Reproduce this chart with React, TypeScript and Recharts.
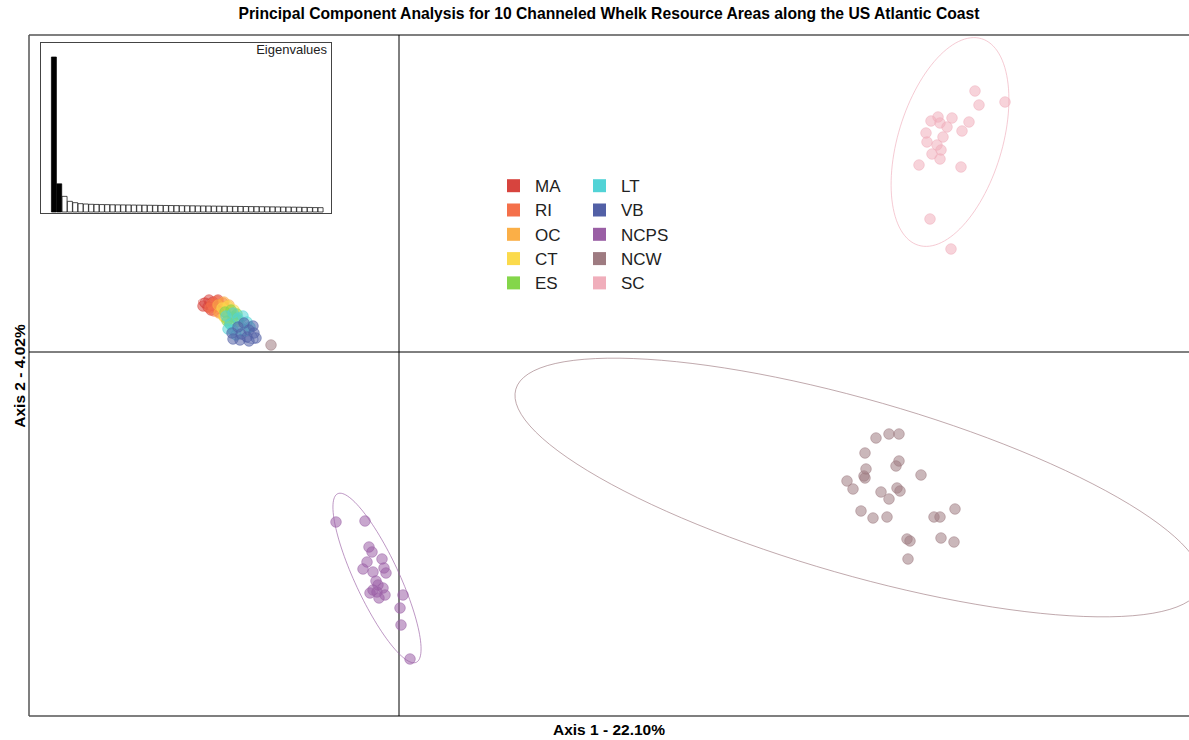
import { ScatterChart, Scatter, XAxis, YAxis, ReferenceLine, BarChart, Bar, Cell } from 'recharts';

const FONT = '"Liberation Sans", Arial, sans-serif';

const groups = ['MA', 'RI', 'OC', 'CT', 'ES', 'LT', 'VB', 'NCPS', 'NCW', 'SC'];
const groupColors = ['#D7443E', '#F4704A', '#FBAF47', '#FBDA4C', '#84D64A', '#52D3D6', '#5260A6', '#9A5FA5', '#9E7B81', '#F0AEBB'];

// PC scores (axis 1, axis 2) for each resource area
const scoresMA = [[-1.94, 0.49], [-1.9, 0.52], [-1.86, 0.5], [-1.91, 0.45], [-1.84, 0.46], [-1.88, 0.42], [-1.81, 0.52], [-1.96, 0.46]];
const scoresRI = [[-1.87, 0.48], [-1.82, 0.51], [-1.79, 0.45], [-1.85, 0.41], [-1.76, 0.49], [-1.8, 0.4], [-1.89, 0.44]];
const scoresOC = [[-1.81, 0.47], [-1.75, 0.5], [-1.73, 0.43], [-1.8, 0.39], [-1.7, 0.47], [-1.75, 0.36], [-1.68, 0.4]];
const scoresCT = [[-1.77, 0.44], [-1.71, 0.46], [-1.69, 0.39], [-1.75, 0.35], [-1.65, 0.42], [-1.71, 0.32], [-1.64, 0.36]];
const scoresES = [[-1.74, 0.4], [-1.68, 0.42], [-1.66, 0.35], [-1.72, 0.31], [-1.62, 0.38], [-1.69, 0.28], [-1.61, 0.32]];
const scoresLT = [
  [-1.73, 0.36], [-1.66, 0.39], [-1.61, 0.34], [-1.69, 0.28], [-1.56, 0.36], [-1.59, 0.26],
  [-1.66, 0.22], [-1.52, 0.3], [-1.54, 0.21], [-1.63, 0.17], [-1.71, 0.23], [-1.49, 0.25],
];
const scoresVB = [
  [-1.61, 0.25], [-1.55, 0.29], [-1.5, 0.22], [-1.58, 0.18], [-1.46, 0.26], [-1.52, 0.15],
  [-1.66, 0.13], [-1.45, 0.19], [-1.5, 0.11], [-1.59, 0.12], [-1.67, 0.19], [-1.43, 0.14],
];
const scoresNCPS = [
  [-0.63, -1.7], [-0.34, -1.69], [-0.3, -1.95], [-0.27, -2.0], [-0.32, -2.1], [-0.17, -2.07], [-0.36, -2.17],
  [-0.26, -2.2], [-0.15, -2.16], [-0.13, -2.21], [-0.21, -2.33], [-0.26, -2.38], [-0.16, -2.36], [-0.29, -2.41],
  [-0.22, -2.4], [-0.2, -2.46], [-0.14, -2.43], [-0.23, -2.29], [0.04, -2.43], [0.01, -2.56], [0.02, -2.73], [0.11, -3.07],
];
const scoresNCW = [
  [4.77, -0.86], [4.9, -0.82], [5.0, -0.82], [4.66, -1.01], [5.0, -1.09], [4.97, -1.14], [4.67, -1.17], [4.65, -1.24],
  [4.66, -1.26], [4.48, -1.29], [4.54, -1.37], [5.22, -1.23], [4.82, -1.4], [4.9, -1.47], [4.98, -1.36], [5.01, -1.39],
  [4.62, -1.59], [4.74, -1.66], [4.88, -1.65], [5.35, -1.65], [5.41, -1.65], [5.56, -1.57], [5.08, -1.87], [5.11, -1.89],
  [5.42, -1.86], [5.55, -1.9], [5.09, -2.07], [-1.28, 0.07],
];
const scoresSC = [
  [5.76, 2.61], [5.8, 2.47], [6.06, 2.5], [5.39, 2.35], [5.32, 2.31], [5.53, 2.34], [5.41, 2.29], [5.48, 2.25],
  [5.7, 2.3], [5.63, 2.21], [5.27, 2.19], [5.44, 2.15], [5.28, 2.1], [5.38, 2.07], [5.42, 2.02], [5.33, 1.98],
  [5.41, 1.93], [5.2, 1.87], [5.62, 1.85], [5.31, 1.33], [5.52, 1.03],
];
const scores = [scoresMA, scoresRI, scoresOC, scoresCT, scoresES, scoresLT, scoresVB, scoresNCPS, scoresNCW, scoresSC];

// class ellipses: centre x, centre y, half axis 1, half axis 2, angle (deg)
const ellipses = [
  [-1.89, 0.47, 0.12, 0.05, -20],
  [-1.83, 0.454, 0.12, 0.055, -30],
  [-1.746, 0.431, 0.13, 0.06, -35],
  [-1.7, 0.391, 0.13, 0.06, -40],
  [-1.67, 0.351, 0.13, 0.06, -40],
  [-1.62, 0.28, 0.16, 0.07, -40],
  [-1.54, 0.19, 0.15, 0.07, -35],
  [-0.22, -2.26, 0.93, 0.22, 115],
  [4.595, -1.355, 3.565, 0.875, -16],
  [5.51, 2.1, 1.08, 0.52, 73],
];

// eigenvalues, % of variance
const eigenvalues = [
  22.1, 4.02, 2.23, 1.52, 1.33, 1.19, 1.14, 1.1, 1.08, 1.06, 1.05, 1.03, 1.02, 1.01, 1.0, 0.99, 0.98,
  0.97, 0.96, 0.95, 0.94, 0.93, 0.92, 0.91, 0.9, 0.89, 0.88, 0.87, 0.86, 0.85, 0.84, 0.83, 0.82, 0.81,
  0.8, 0.79, 0.78, 0.77, 0.76, 0.75, 0.74, 0.73, 0.72, 0.71, 0.7, 0.69, 0.68, 0.66, 0.65, 0.63, 0.62,
];
const keptAxes = 2;

const xLabel = 'Axis 1 - 22.10%';
const yLabel = 'Axis 2 - 4.02%';
const title = 'Principal Component Analysis for 10 Channeled Whelk Resource Areas along the US Atlantic Coast';

function ellipseOutline([cx, cy, a, b, deg]: number[]) {
  const r = (deg * Math.PI) / 180;
  const pts = [];
  for (let i = 0; i <= 120; i++) {
    const t = (i / 120) * 2 * Math.PI;
    pts.push({
      x: cx + a * Math.cos(t) * Math.cos(r) - b * Math.sin(t) * Math.sin(r),
      y: cy + a * Math.cos(t) * Math.sin(r) + b * Math.sin(t) * Math.cos(r),
    });
  }
  return pts;
}

const dot = (color: string) => (props: any) => (
  <circle cx={props.cx} cy={props.cy} r={5.3} fill={color} fillOpacity={0.55} stroke={color} strokeOpacity={0.5} strokeWidth={1} />
);

export default function App() {
  const eigenData = eigenvalues.map((v, i) => ({ axis: i + 1, value: v }));

  return (
    <div style={{ position: 'relative', width: 1189, height: 740, background: '#fff', fontFamily: FONT }}>
      <style>{'body{margin:0}'}</style>
      <ScatterChart width={1189} height={740} margin={{ top: 35, right: 0, bottom: 24, left: 29 }}>
        <XAxis type="number" dataKey="x" domain={[-3.7, 7.9]} allowDataOverflow hide />
        <YAxis type="number" dataKey="y" domain={[-3.64, 3.17]} allowDataOverflow hide />
        <ReferenceLine x={-3.7} stroke="#555" strokeWidth={1.5} />
        <ReferenceLine y={3.17} stroke="#555" strokeWidth={1.5} />
        <ReferenceLine y={-3.64} stroke="#555" strokeWidth={1.5} />
        <ReferenceLine x={0} stroke="#000" />
        <ReferenceLine y={0} stroke="#000" />
        {ellipses.map((e, i) => (
          <Scatter
            key={'ell-' + groups[i]}
            data={ellipseOutline(e)}
            line={{ stroke: groupColors[i], strokeWidth: 1, strokeOpacity: 0.65 }}
            lineType="joint"
            shape={() => <g />}
            isAnimationActive={false}
          />
        ))}
        {scores.map((pts, i) => (
          <Scatter
            key={groups[i]}
            name={groups[i]}
            data={pts.map(([x, y]) => ({ x, y }))}
            shape={dot(groupColors[i])}
            isAnimationActive={false}
          />
        ))}
      </ScatterChart>

      <div style={{ position: 'absolute', left: 40, top: 42, width: 292, height: 172, border: '1px solid #444', boxSizing: 'border-box', background: '#fff' }}>
        <BarChart width={290} height={170} data={eigenData} margin={{ top: 14, right: 8, bottom: 1, left: 10 }} barCategoryGap={0.4}>
          <XAxis dataKey="axis" hide />
          <YAxis domain={[0, 22.1]} hide />
          <Bar dataKey="value" stroke="#000" strokeWidth={0.7} isAnimationActive={false}>
            {eigenData.map((d, i) => (
              <Cell key={d.axis} fill={i < keptAxes ? '#000' : '#fff'} />
            ))}
          </Bar>
        </BarChart>
      </div>

      <svg width={1189} height={740} style={{ position: 'absolute', left: 0, top: 0, pointerEvents: 'none' }} fontFamily={FONT}>
        <text x={609} y={18.5} textAnchor="middle" fontSize={15.7} fontWeight="bold" fill="#000">{title}</text>
        <text x={609} y={735} textAnchor="middle" fontSize={15.5} fontWeight="bold" fill="#000">{xLabel}</text>
        <text transform="translate(24.5,376) rotate(-90)" textAnchor="middle" fontSize={15.5} fontWeight="bold" fill="#000">{yLabel}</text>
        <text x={327} y={54} textAnchor="end" fontSize={13} fill="#222">Eigenvalues</text>
        {groups.map((g, i) => {
          const col = Math.floor(i / 5);
          const row = i % 5;
          const cy = 185.7 + row * 24.3;
          return (
            <g key={'leg-' + g}>
              <rect x={507 + col * 86} y={cy - 6.5} width={13} height={13} fill={groupColors[i]} />
              <text x={535 + col * 86} y={cy + 6.2} fontSize={17} fill="#222">{g}</text>
            </g>
          );
        })}
      </svg>
    </div>
  );
}
